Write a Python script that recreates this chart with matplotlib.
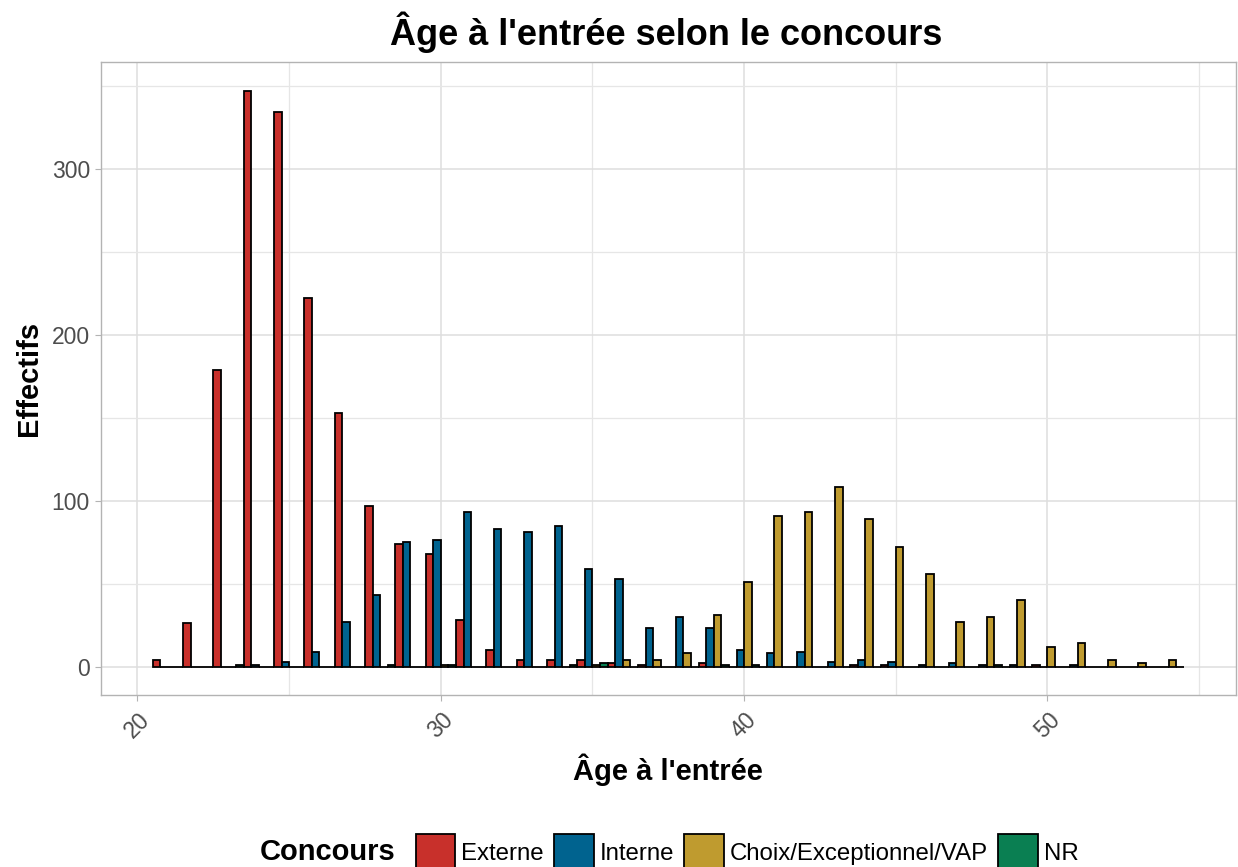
import matplotlib
matplotlib.use("Agg")
import matplotlib.pyplot as plt
from matplotlib.patches import Patch
import numpy as np

plt.rcParams['font.family'] = ['Liberation Sans', 'DejaVu Sans']

# effectifs par age d'entree (21 a 54 ans) et par concours
ages = list(range(21, 55))
externe = [4, 26, 179, 347, 334, 222, 153, 97, 74, 68, 28, 10, 4, 4, 4, 2, 1, 0,
           2, 0, 0, 0, 0, 1, 1, 0, 0, 0, 0, 1, 0, 0, 0, 0]
interne = [0, 0, 0, 1, 3, 9, 27, 43, 75, 76, 93, 83, 81, 85, 59, 53, 23, 30,
           23, 10, 8, 9, 3, 4, 3, 1, 2, 1, 1, 0, 1, 0, 0, 0]
choix = [0, 0, 0, 0, 0, 0, 0, 0, 0, 1, 0, 0, 0, 0, 1, 4, 4, 8,
         31, 51, 91, 93, 108, 89, 72, 56, 27, 30, 40, 12, 14, 4, 2, 4]
nr = [0, 0, 1, 0, 0, 0, 0, 1, 0, 1, 0, 0, 0, 1, 2, 0, 0, 0,
      1, 1, 0, 0, 0, 0, 0, 0, 0, 1, 0, 0, 0, 0, 0, 0]

groupes = ['Externe', 'Interne', 'Choix/Exceptionnel/VAP', 'NR']
couleurs = ['#C8302B', '#00638F', '#BF9B2F', '#0A7F52']
series = [externe, interne, choix, nr]

fig = plt.figure(figsize=(12.38, 8.67), dpi=100)
ax = fig.add_axes([0.0816, 0.198, 0.9164, 0.7305])

x = np.array(ages)
w = 0.25
for k in range(4):
    ax.bar(x - 0.375 + k * w, series[k], width=w, color=couleurs[k],
           edgecolor='black', linewidth=1.3, zorder=3)

ax.set_xlim(18.8, 56.2)
ax.set_ylim(-17.35, 364.35)
ax.set_xticks([20, 30, 40, 50])
ax.set_xticks([25, 35, 45, 55], minor=True)
ax.set_yticks([0, 100, 200, 300])
ax.set_yticks([50, 150, 250, 350], minor=True)
ax.grid(which='major', color='#DEDEDE', linewidth=1.1)
ax.grid(which='minor', color='#E6E6E6', linewidth=0.9)
ax.set_axisbelow(True)

for s in ax.spines.values():
    s.set_color('#B3B3B3')
    s.set_linewidth(1.0)
ax.tick_params(which='major', length=4, color='#B3B3B3', labelcolor='#4D4D4D',
               labelsize=16.5)
ax.tick_params(which='minor', length=0)
ax.tick_params(axis='y', pad=4)
ax.tick_params(axis='x', pad=5)
for lab in ax.get_xticklabels():
    lab.set_rotation(45)
    lab.set_ha('center')
    lab.set_va('top')

ax.set_xlabel("Âge à l'entrée", fontsize=21, fontweight='bold', labelpad=8)
ax.set_ylabel("Effectifs", fontsize=21, fontweight='bold', labelpad=6)
fig.text(0.538, 0.963, "Âge à l'entrée selon le concours", fontsize=26,
         fontweight='bold', ha='center', va='center')

handles = [Patch(facecolor=c, edgecolor='black', linewidth=1.3) for c in couleurs]
fig.legend(handles, groupes, loc='center left', bbox_to_anchor=(0.328, 0.017),
           ncol=4, frameon=False, fontsize=17.3, handlelength=1.65, handleheight=1.95,
           handletextpad=0.25, columnspacing=0.42, borderaxespad=0)
fig.text(0.21, 0.017, "Concours", fontsize=21, fontweight='bold',
         ha='left', va='center')

fig.savefig('out.png', dpi=100)
